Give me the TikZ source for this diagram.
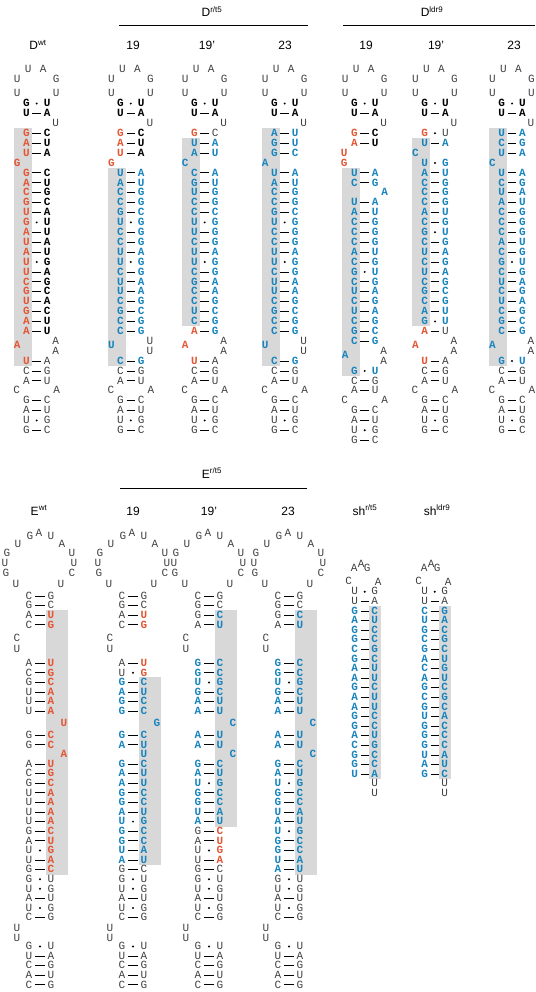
\documentclass[tikz,border=0pt]{standalone}
\usepackage{fontspec}
\setmainfont{Liberation Sans}
\setmonofont{Liberation Mono}
\usetikzlibrary{positioning}

\definecolor{ntred}{RGB}{228,86,52}
\definecolor{ntblue}{RGB}{24,132,190}
\definecolor{boxgray}{RGB}{216,216,216}
\definecolor{ntgray}{RGB}{64,64,64}

% column: name, x of stem axis, y of row 0, row pitch, half gap of a pair
\newcommand\setcol[5]{\def\cn{#1}\def\cx{#2}\def\yz{#3}\def\pitch{#4}\def\phw{#5}}
% base pair: row, left style, left base, bond (- or .), right style, right base
\newcommand\bpair[6]{%
  \node[#2] (\cn-#1l) at ({\cx-\phw},{\yz+#1*\pitch}) {#3};
  \node[#5] (\cn-#1r) at ({\cx+\phw},{\yz+#1*\pitch}) {#6};
  \if-#4\draw[bond] (\cn-#1l) -- (\cn-#1r);
  \else\node[wobble] (\cn-#1d) at ({\cx},{\yz+#1*\pitch}) {};\fi}
% run of pairs: first row, row step, left style, right style, list
\newcommand\stem[5]{%
  \foreach \lft/\bnd/\rgt [count=\idx from 0] in {#5}{%
    \pgfmathtruncatemacro\rw{#1+#2*\idx}%
    \bpair{\rw}{#3}{\lft}{\bnd}{#4}{\rgt}}}
% unpaired base: style, name, x offset, y offset, base
\newcommand\nuc[5]{\node[#1] (\cn-#2) at ({\cx+#3},{\yz+#4}) {#5};}
% grey band: x from, x to, first row, last row
\newcommand\grbox[4]{\fill[boxgray] ({\cx+#1},{\yz+#3*\pitch-5}) rectangle ({\cx+#2},{\yz+#4*\pitch+5});}

% D hairpin
\newcommand\dtop{%
  \nuc{nk}{lp1}{-8.5}{-34}{U}\nuc{nk}{lp2}{6.5}{-34}{A}
  \nuc{nk}{lp3}{-19.5}{-24}{U}\nuc{nk}{lp4}{19.5}{-24}{G}
  \nuc{nk}{lp5}{-19.5}{-10}{U}\nuc{nk}{lp6}{19.5}{-10}{U}
  \bpair{0}{nkb}{G}{.}{nkb}{U}\bpair{1}{nkb}{U}{-}{nkb}{A}
  \nuc{nk}{b2}{19}{2*\pitch}{U}}
\newcommand\dloop[4]{% row, left style, left base, right base
  \nuc{#2}{il}{-19.5}{(#1+0.4)*\pitch}{#3}
  \nuc{nk}{ir1}{19}{#1*\pitch}{#4}\nuc{nk}{ir2}{19}{(#1+1)*\pitch}{#4}}
\newcommand\dbase[1]{%
  \stem{#1}{1}{nk}{nk}{C/-/G,A/-/U}
  \nuc{nk}{bl}{-20}{(#1+2)*\pitch}{C}\nuc{nk}{br}{20}{(#1+2)*\pitch}{A}
  \stem{#1+3}{1}{nk}{nk}{G/-/C,A/-/U,U/./G,G/-/C}}

% E hairpin (half rows)
\newcommand\etop{%
  \nuc{nk}{lp1}{-22}{-52}{U}\nuc{nk}{lp2}{-10}{-60}{G}\nuc{nk}{lp3}{-1}{-63}{A}
  \nuc{nk}{lp4}{11}{-60}{U}\nuc{nk}{lp5}{22}{-52}{A}
  \nuc{nk}{lp6}{-33}{-43}{G}\nuc{nk}{lp7}{32}{-43}{U}
  \nuc{nk}{lp8}{-35}{-33}{U}\nuc{nk}{lp9}{34}{-33}{U}
  \nuc{nk}{lp10}{-34}{-23}{G}\nuc{nk}{lp11}{32}{-23}{C}
  \nuc{nk}{lp12}{-24}{-12}{U}\nuc{nk}{lp13}{21}{-12}{U}
  \stem{0}{2}{nk}{nk}{C/-/G,G/-/C}
  \nuc{nk}{bc}{-23}{8.75*\pitch}{C}\nuc{nk}{bu}{-23}{11*\pitch}{U}}
\newcommand\ebase{%
  \nuc{nk}{bu1}{-23}{69.2*\pitch}{U}\nuc{nk}{bu2}{-23}{71.2*\pitch}{U}
  \stem{73}{2}{nk}{nk}{G/./U,U/-/A,C/-/G,A/-/U,C/-/G}}

% sh hairpin
\newcommand\shtop{%
  \nuc{nk}{lp1}{-10.5}{-23.5}{A}\nuc{nk}{lp2}{-3.5}{-27}{A}\nuc{nk}{lp3}{2.5}{-23.5}{G}
  \nuc{nk}{lp4}{-16}{-10}{C}\nuc{nk}{lp5}{13.5}{-9}{A}
  \stem{0}{1}{nk}{nk}{U/./G,U/-/A}}
\newcommand\shend{\nuc{nk}{t1}{\phw}{20*\pitch}{U}\nuc{nk}{t2}{\phw}{21*\pitch}{U}}

\begin{document}
\begin{tikzpicture}[x=1pt, y=-1pt,
    nk/.style={inner sep=0pt, text height=6.5pt, text depth=0pt, text=ntgray,
               font=\ttfamily\fontsize{11}{11}\selectfont},
    nkb/.style={nk, text=black, font=\ttfamily\bfseries\fontsize{11}{11}\selectfont},
    nr/.style={nkb, text=ntred},
    nb/.style={nkb, text=ntblue},
    bond/.style={line width=0.8pt, shorten <=2.6pt, shorten >=2.6pt},
    wobble/.style={circle, fill=black, inner sep=0pt, minimum size=2.2pt},
    ttl/.style={inner sep=0pt, anchor=base, font=\fontsize{12}{12}\selectfont},
    rule/.style={line width=0.9pt}
]
\useasboundingbox (0,0) rectangle (535,992);
\clip (0,0) rectangle (535,992);

% headings
\node[ttl] (h-dr) at (212,17) {D\textsuperscript{r/t5}};
\node[ttl] (h-dl) at (432,17) {D\textsuperscript{ldr9}};
\coordinate (h-dr-a) at (119,25); \coordinate (h-dr-b) at (308,25);
\coordinate (h-dl-a) at (343,25); \coordinate (h-dl-b) at (535,25);
\draw[rule] (h-dr-a) -- (h-dr-b);
\draw[rule] (h-dl-a) -- (h-dl-b);
\node[ttl] (h-dwt) at (38,50) {D\textsuperscript{wt}};
\node[ttl] (h-dra) at (133,50) {19};
\node[ttl] (h-drb) at (207,50) {19’};
\node[ttl] (h-drc) at (285,50) {23};
\node[ttl] (h-dla) at (366,50) {19};
\node[ttl] (h-dlb) at (436,50) {19’};
\node[ttl] (h-dlc) at (514,50) {23};

\node[ttl] (h-er) at (212,478) {E\textsuperscript{r/t5}};
\coordinate (h-er-a) at (120,488); \coordinate (h-er-b) at (307,488);
\draw[rule] (h-er-a) -- (h-er-b);
\node[ttl] (h-ewt) at (39,515) {E\textsuperscript{wt}};
\node[ttl] (h-era) at (133,515) {19};
\node[ttl] (h-erb) at (209,515) {19’};
\node[ttl] (h-erc) at (288,515) {23};
\node[ttl] (h-sha) at (365,515) {sh\textsuperscript{r/t5}};
\node[ttl] (h-shb) at (437,515) {sh\textsuperscript{ldr9}};

% D wt
\setcol{dwt}{36.7}{103.6}{9.9}{10.4}
\grbox{-23}{-5}{3}{26}
\dtop
\stem{3}{1}{nr}{nkb}{G/-/C,A/-/U,U/-/A}
\nuc{nr}{b6}{-19.5}{6*\pitch}{G}
\stem{7}{1}{nr}{nkb}{G/-/C,A/-/U,C/-/G,G/-/C,U/-/A,G/./U,A/-/U,U/-/A,A/-/U,U/./G,U/-/A,C/-/G,G/-/C,U/-/A,G/-/C,A/-/U,A/-/U}
\dloop{24}{nr}{A}{A}
\bpair{26}{nr}{U}{-}{nk}{A}
\dbase{27}

% D r/t5 19
\setcol{dra}{130.8}{103.6}{9.9}{10.4}
\grbox{-23}{-5}{7}{26}
\dtop
\stem{3}{1}{nr}{nkb}{G/-/C,A/-/U,U/-/A}
\nuc{nr}{b6}{-19.5}{6*\pitch}{G}
\stem{7}{1}{nb}{nb}{U/-/A,A/-/U,C/-/G,C/-/G,G/-/C,U/./G,C/-/G,C/-/G,U/-/A,U/./G,C/-/G,U/-/A,U/-/A,C/-/G,G/-/C,C/-/G,C/-/G}
\dloop{24}{nb}{U}{U}
\bpair{26}{nb}{C}{-}{nb}{G}
\dbase{27}

% D r/t5 19'
\setcol{drb}{204.7}{103.6}{9.9}{10.4}
\grbox{-23}{-5}{4}{22}
\dtop
\bpair{3}{nr}{G}{-}{nk}{C}
\stem{4}{1}{nb}{nb}{U/-/A,A/-/U}
\nuc{nb}{b6}{-19.5}{6*\pitch}{C}
\stem{7}{1}{nb}{nb}{C/-/A,G/-/U,U/-/G,C/-/G,C/-/C,U/./G,U/-/G,C/-/G,U/-/A,U/./G,C/-/G,G/-/A,C/-/A,C/-/G,U/-/C,C/-/G}
\bpair{23}{nr}{A}{-}{nb}{G}
\dloop{24}{nr}{A}{A}
\bpair{26}{nr}{U}{-}{nk}{A}
\dbase{27}

% D r/t5 23
\setcol{drc}{284.7}{103.6}{9.9}{10.4}
\grbox{-23}{-5}{3}{26}
\dtop
\stem{3}{1}{nb}{nb}{A/-/U,G/-/U,G/-/C}
\nuc{nb}{b6}{-19.5}{6*\pitch}{A}
\stem{7}{1}{nb}{nb}{U/-/A,A/-/U,C/-/G,C/-/G,G/-/C,U/./G,C/-/G,C/-/G,U/-/A,U/./G,C/-/G,U/-/A,U/-/A,C/-/G,G/-/C,C/-/G,C/-/G}
\dloop{24}{nb}{U}{U}
\bpair{26}{nb}{C}{-}{nb}{G}
\dbase{27}

% D ldr9 19
\setcol{dla}{364.7}{103.6}{9.9}{10.4}
\grbox{-23}{-5}{7}{27}
\dtop
\stem{3}{1}{nr}{nkb}{G/-/C,A/-/U}
\nuc{nr}{b5}{-20.5}{5*\pitch}{U}
\nuc{nr}{b6}{-20.5}{6*\pitch}{G}
\stem{7}{1}{nb}{nb}{U/-/A,C/-/G}
\nuc{nb}{b9}{20}{9*\pitch}{A}
\stem{10}{1}{nb}{nb}{U/-/A,A/-/U,C/-/G,C/-/G,C/-/G,A/-/U,C/-/G,G/./U,C/-/G,U/-/A,C/-/G,U/-/A,C/-/G,G/-/C,C/-/G}
\dloop{25}{nb}{A}{A}
\bpair{27}{nb}{G}{.}{nb}{U}
\dbase{28}

% D ldr9 19'
\setcol{dlb}{435}{103.6}{9.9}{10.4}
\grbox{-23}{-5}{4}{22}
\dtop
\bpair{3}{nr}{G}{.}{nk}{U}
\bpair{4}{nb}{U}{-}{nb}{A}
\nuc{nb}{b5}{-19.5}{5*\pitch}{C}
\stem{6}{1}{nb}{nb}{U/./G,A/-/U,C/-/G,C/-/G,C/-/G,A/-/U,C/-/G,G/./U,C/-/G,U/-/A,C/-/G,U/-/A,C/-/G,G/-/C,C/-/G,A/-/U,G/./U}
\bpair{23}{nr}{A}{-}{nk}{U}
\dloop{24}{nr}{A}{A}
\bpair{26}{nr}{U}{-}{nk}{A}
\dbase{27}

% D ldr9 23
\setcol{dlc}{512}{103.6}{9.9}{10.4}
\grbox{-23}{-5}{3}{26}
\dtop
\stem{3}{1}{nb}{nb}{U/-/A,C/-/G,U/-/A}
\nuc{nb}{b6}{-19.5}{6*\pitch}{C}
\stem{7}{1}{nb}{nb}{U/-/A,C/-/G,U/-/A,A/-/U,C/-/G,C/-/G,C/-/G,A/-/U,C/-/G,G/./U,C/-/G,U/-/A,C/-/G,U/-/A,C/-/G,G/-/C,C/-/G}
\dloop{24}{nb}{A}{A}
\bpair{26}{nb}{G}{.}{nb}{U}
\dbase{27}

% E wt
\setcol{ewt}{40}{596}{4.8}{11}
\grbox{6}{28}{4}{57}
\etop
\stem{4}{2}{nk}{nr}{A/-/U,C/-/G}
\stem{14}{2}{nk}{nr}{A/-/U,C/-/G,G/-/C,U/-/A,U/-/A,U/-/A}
\nuc{nr}{g1}{24}{26.6*\pitch}{U}
\stem{29}{2}{nk}{nr}{G/-/C,G/-/C}
\nuc{nr}{g2}{24}{33*\pitch}{A}
\stem{35}{2}{nk}{nr}{A/-/U,C/-/G,G/-/C,U/-/A,U/-/A,U/-/A,U/-/A,G/-/C,A/-/U,U/./G,U/-/A,G/-/C}
\stem{59}{2}{nk}{nk}{G/./U,U/./G,A/-/U,U/./G,C/-/G}
\ebase

% E r/t5 19
\setcol{era}{133}{596}{4.8}{11}
\grbox{6}{28}{18}{55}
\etop
\stem{4}{2}{nk}{nr}{A/-/U,C/-/G}
\stem{14}{2}{nk}{nr}{A/-/U,U/./G}
\stem{18}{2}{nb}{nb}{G/-/C,A/-/U,G/-/C,G/-/C}
\nuc{nb}{g1}{24}{26.6*\pitch}{G}
\stem{29}{2}{nb}{nb}{G/-/C,A/-/U}
\nuc{nb}{g2}{11}{33*\pitch}{U}
\stem{35}{2}{nb}{nb}{G/-/C,A/-/U,A/-/U,G/-/C,G/-/C,A/-/U,U/./G,G/-/C,G/-/C,U/-/A,A/-/U}
\stem{57}{2}{nk}{nk}{G/-/C,G/./U,U/./G,A/-/U,U/./G,C/-/G}
\ebase

% E r/t5 19'
\setcol{erb}{209}{596}{4.8}{11}
\grbox{6}{28}{4}{47}
\etop
\stem{4}{2}{nk}{nb}{G/-/C,A/-/U}
\stem{14}{2}{nb}{nb}{G/-/C,G/-/C,U/./G,G/-/C,A/-/U,A/-/U}
\nuc{nb}{g1}{24}{26.6*\pitch}{C}
\stem{29}{2}{nb}{nb}{A/-/U,A/-/U}
\nuc{nb}{g2}{24}{33*\pitch}{C}
\stem{35}{2}{nb}{nb}{G/-/C,A/-/U,U/./G,G/-/C,G/-/C,U/-/A,A/-/U}
\stem{49}{2}{nk}{nr}{G/-/C,A/-/U,U/./G,U/-/A}
\stem{57}{2}{nk}{nk}{G/-/C,G/./U,U/./G,A/-/U,U/./G,C/-/G}
\ebase

% E r/t5 23
\setcol{erc}{289}{596}{4.8}{11}
\grbox{6}{28}{4}{57}
\etop
\stem{4}{2}{nk}{nb}{G/-/C,A/-/U}
\stem{14}{2}{nb}{nb}{G/-/C,G/-/C,U/./G,G/-/C,A/-/U,A/-/U}
\nuc{nb}{g1}{24}{26.6*\pitch}{C}
\stem{29}{2}{nb}{nb}{A/-/U,A/-/U}
\nuc{nb}{g2}{24}{33*\pitch}{C}
\stem{35}{2}{nb}{nb}{G/-/C,A/-/U,U/./G,G/-/C,G/-/C,U/-/A,A/-/U,U/./G,G/-/C,G/-/C,U/-/A,A/-/U}
\stem{59}{2}{nk}{nk}{G/./U,U/./G,A/-/U,U/./G,C/-/G}
\ebase

% sh r/t5
\setcol{sha}{364.7}{591.7}{9.6}{10}
\grbox{4}{16.5}{2}{19}
\shtop
\stem{2}{1}{nb}{nb}{G/-/C,A/-/U,G/-/C,G/-/C,C/-/G,G/-/C,A/-/U,A/-/U,G/-/C,A/-/U,A/-/U,G/-/C,G/-/C,A/-/U,C/-/G,G/-/C,G/-/C,U/-/A}
\shend

% sh ldr9
\setcol{shb}{434.7}{591.7}{9.6}{10}
\grbox{4}{16.5}{2}{19}
\shtop
\stem{2}{1}{nb}{nb}{C/-/G,U/-/A,G/-/C,C/-/G,G/-/C,A/-/U,C/-/G,A/-/U,G/-/C,C/-/G,G/-/C,U/-/A,G/-/C,G/-/C,G/-/C,U/-/A,A/-/U,G/-/C}
\shend
\end{tikzpicture}
\end{document}
